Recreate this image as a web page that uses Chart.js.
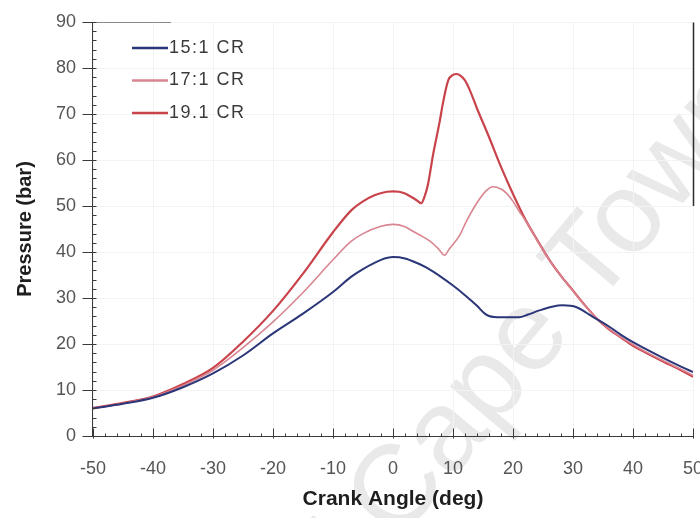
<!DOCTYPE html>
<html>
<head>
<meta charset="utf-8">
<script src="https://cdn.jsdelivr.net/npm/chart.js@4.4.1/dist/chart.umd.min.js"></script>
<style>
  html, body { margin: 0; padding: 0; background: #fff; }
  #wrap { width: 700px; height: 518px; }
</style>
</head>
<body>
<div id="wrap"><canvas id="chartPressure" width="700" height="518"></canvas></div>
<script>
// cylinder pressure (bar) against crank angle (deg), one pair of arrays per compression ratio
const angle15 = [-50, -45, -40, -35, -30, -25, -20, -15, -10, -7, -5, -2, 0, 2, 4, 5.6, 8, 10, 12, 14, 15.3, 16, 18, 21, 22.5, 24.4, 26.5, 28.3, 30.6, 32, 33.3, 36, 38, 40, 42, 45, 48, 50];
const pressure15 = [6.0, 7.0, 8.3, 10.6, 13.6, 17.5, 22.3, 26.6, 31.3, 34.6, 36.3, 38.3, 38.9, 38.6, 37.6, 36.6, 34.6, 32.7, 30.6, 28.3, 26.6, 26.1, 25.8, 25.8, 26.4, 27.3, 28.1, 28.4, 28.0, 27.0, 25.9, 23.8, 22.0, 20.4, 19.0, 17.0, 15.1, 13.9];

const angle17 = [-50, -45, -40, -35, -30, -25, -20, -15, -10, -7, -5, -2, 0, 2, 3.3, 5, 6.1, 7.5, 8.6, 9.4, 11.1, 12.2, 13.9, 15.5, 16.7, 18, 18.9, 20, 21, 22, 24, 26, 28, 30, 32, 34, 36, 38, 40, 42, 45, 48, 50];
const pressure17 = [6.0, 7.1, 8.5, 11.0, 14.3, 19.2, 24.8, 31.2, 38.3, 42.3, 44.0, 45.6, 46.0, 45.5, 44.5, 43.3, 42.4, 40.8, 39.3, 40.7, 43.6, 46.6, 50.5, 53.3, 54.2, 53.7, 52.8, 51.0, 48.9, 47.0, 42.6, 38.4, 34.8, 31.5, 28.3, 25.5, 23.3, 21.5, 19.9, 18.4, 16.4, 14.5, 13.2];

const angle19 = [-50, -45, -40, -35, -30, -25, -20, -15, -10, -7, -5, -3, -1, 0, 1, 2, 3, 4, 4.7, 5.3, 5.8, 6.7, 7.8, 8.3, 9.2, 10, 10.6, 11.3, 12, 12.8, 14, 16, 18, 20, 22, 24, 26, 28, 30, 32, 34, 36, 38, 40, 42, 45, 48, 50];
const pressure19 = [6.1, 7.2, 8.6, 11.3, 14.8, 20.5, 27.2, 35.3, 44.3, 49.0, 51.0, 52.4, 53.1, 53.2, 53.1, 52.7, 52.0, 51.2, 50.6, 52.2, 54.5, 61.3, 68.5, 72.2, 77.3, 78.5, 78.7, 78.3, 77.3, 75.2, 71.2, 65.0, 58.5, 52.6, 47.2, 42.7, 38.4, 34.8, 31.6, 28.4, 25.5, 23.2, 21.4, 19.6, 18.2, 16.2, 14.3, 12.9];

const seriesLabels = ["15:1 CR", "17:1 CR", "19.1 CR"];
const xTickValues = [-50, -40, -30, -20, -10, 0, 10, 20, 30, 40, 50];
const yTickValues = [0, 10, 20, 30, 40, 50, 60, 70, 80, 90];

const FONT = '"Liberation Sans", Arial, sans-serif';

function toPoints(xs, ys) {
  return xs.map((x, i) => ({ x: x, y: ys[i] }));
}

// axis lines, tick marks, legend and the faint watermark
const decorations = {
  id: "decorations",
  beforeDraw(chart) {
    const ctx = chart.ctx;
    ctx.save();
    ctx.fillStyle = "#fff";
    ctx.fillRect(0, 0, chart.width, chart.height);
    ctx.translate(397, 544);
    ctx.rotate(-50 * Math.PI / 180);
    ctx.font = "115px " + FONT;
    ctx.fillStyle = "#e9e9e9";
    ctx.fillText("of Cape Town", -ctx.measureText("of ").width, 0);
    ctx.restore();
  },
  afterDraw(chart) {
    const ctx = chart.ctx;
    const xs = chart.scales.x;
    const ys = chart.scales.y;
    const left = Math.round(xs.getPixelForValue(-50)) - 0.5;
    const right = Math.round(xs.getPixelForValue(50)) + 0.5;
    const bottom = Math.round(ys.getPixelForValue(0)) + 0.5;
    const top = Math.round(ys.getPixelForValue(90)) + 0.5;

    ctx.save();
    ctx.lineWidth = 1;
    ctx.strokeStyle = "#3a3a3a";

    // bottom and left axis lines
    ctx.beginPath();
    ctx.moveTo(left, top);
    ctx.lineTo(left, bottom);
    ctx.lineTo(right, bottom);
    ctx.stroke();

    // short pieces of the top and right frame
    ctx.strokeStyle = "#8a8a8a";
    ctx.beginPath();
    ctx.moveTo(left - 8, top);
    ctx.lineTo(Math.round(xs.getPixelForValue(-37)), top);
    ctx.stroke();
    ctx.strokeStyle = "#2a2a2a";
    ctx.lineWidth = 1.5;
    ctx.beginPath();
    ctx.moveTo(right, top);
    ctx.lineTo(right, Math.round(ys.getPixelForValue(50)));
    ctx.stroke();
    ctx.lineWidth = 1;
    ctx.strokeStyle = "#3a3a3a";

    // x tick marks
    for (let v = -50; v <= 50; v += 2) {
      const px = Math.round(xs.getPixelForValue(v)) + 0.5;
      const major = v % 10 === 0;
      ctx.beginPath();
      ctx.moveTo(px, bottom + (major ? 2 : 0));
      ctx.lineTo(px, bottom - (major ? 8 : 3));
      ctx.stroke();
    }
    // y tick marks
    for (let v = 0; v <= 90; v += 2) {
      const py = Math.round(ys.getPixelForValue(v)) + 0.5;
      const major = v % 10 === 0;
      ctx.beginPath();
      ctx.moveTo(left - (major ? 10 : 0), py);
      ctx.lineTo(left + 4, py);
      ctx.stroke();
    }

    // legend in the upper left corner
    const items = chart.data.datasets;
    ctx.font = "18px " + FONT;
    ctx.textBaseline = "middle";
    ctx.fillStyle = "#3a3a3a";
    if ("letterSpacing" in ctx) ctx.letterSpacing = "1.5px";
    items.forEach((ds, i) => {
      const ly = 48 + i * 32.5;
      ctx.strokeStyle = ds.borderColor;
      ctx.lineWidth = 2.5;
      ctx.beginPath();
      ctx.moveTo(132, ly);
      ctx.lineTo(168, ly);
      ctx.stroke();
      ctx.fillText(seriesLabels[i], 169, ly);
    });
    ctx.restore();
  }
};

const ctx = document.getElementById("chartPressure").getContext("2d");

new Chart(ctx, {
  type: "line",
  data: {
    datasets: [
      {
        label: seriesLabels[0],
        data: toPoints(angle15, pressure15),
        borderColor: "#2b3678",
        borderWidth: 2,
      },
      {
        label: seriesLabels[1],
        data: toPoints(angle17, pressure17),
        borderColor: "#d98591",
        borderWidth: 1.6,
      },
      {
        label: seriesLabels[2],
        data: toPoints(angle19, pressure19),
        borderColor: "#c9434b",
        borderWidth: 2.2,
      },
    ],
  },
  options: {
    responsive: false,
    animation: false,
    devicePixelRatio: 1,
    layout: { padding: { top: 22, right: 7, bottom: 0, left: 0 } },
    elements: {
      point: { radius: 0 },
      line: { cubicInterpolationMode: "monotone" },
    },
    plugins: {
      legend: { display: false },
      tooltip: { enabled: false },
    },
    scales: {
      x: {
        type: "linear",
        min: -50,
        max: 50,
        afterBuildTicks: (s) => { s.ticks = xTickValues.map((v) => ({ value: v })); },
        afterFit: (s) => { s.height = 82; s.paddingLeft = 0; s.paddingRight = 0; },
        grid: { color: "#f3f3f3", drawTicks: false },
        border: { display: false },
        ticks: {
          padding: 22,
          color: "#555",
          font: { family: FONT, size: 18 },
          maxRotation: 0,
        },
        title: {
          display: true,
          text: "Crank Angle (deg)",
          color: "#1e1e1e",
          font: { family: FONT, size: 21, weight: "bold" },
          padding: { top: 0, bottom: 6 },
        },
      },
      y: {
        min: 0,
        max: 90,
        afterBuildTicks: (s) => { s.ticks = yTickValues.map((v) => ({ value: v })); },
        afterFit: (s) => { s.width = 93; s.paddingTop = 0; s.paddingBottom = 0; },
        grid: { color: "#f3f3f3", drawTicks: false },
        border: { display: false },
        ticks: {
          padding: 17,
          color: "#555",
          font: { family: FONT, size: 18 },
        },
        title: {
          display: true,
          text: "Pressure (bar)",
          color: "#1e1e1e",
          font: { family: FONT, size: 20, weight: "bold" },
          padding: { top: 13, bottom: 0 },
        },
      },
    },
  },
  plugins: [decorations],
});
</script>
</body>
</html>
